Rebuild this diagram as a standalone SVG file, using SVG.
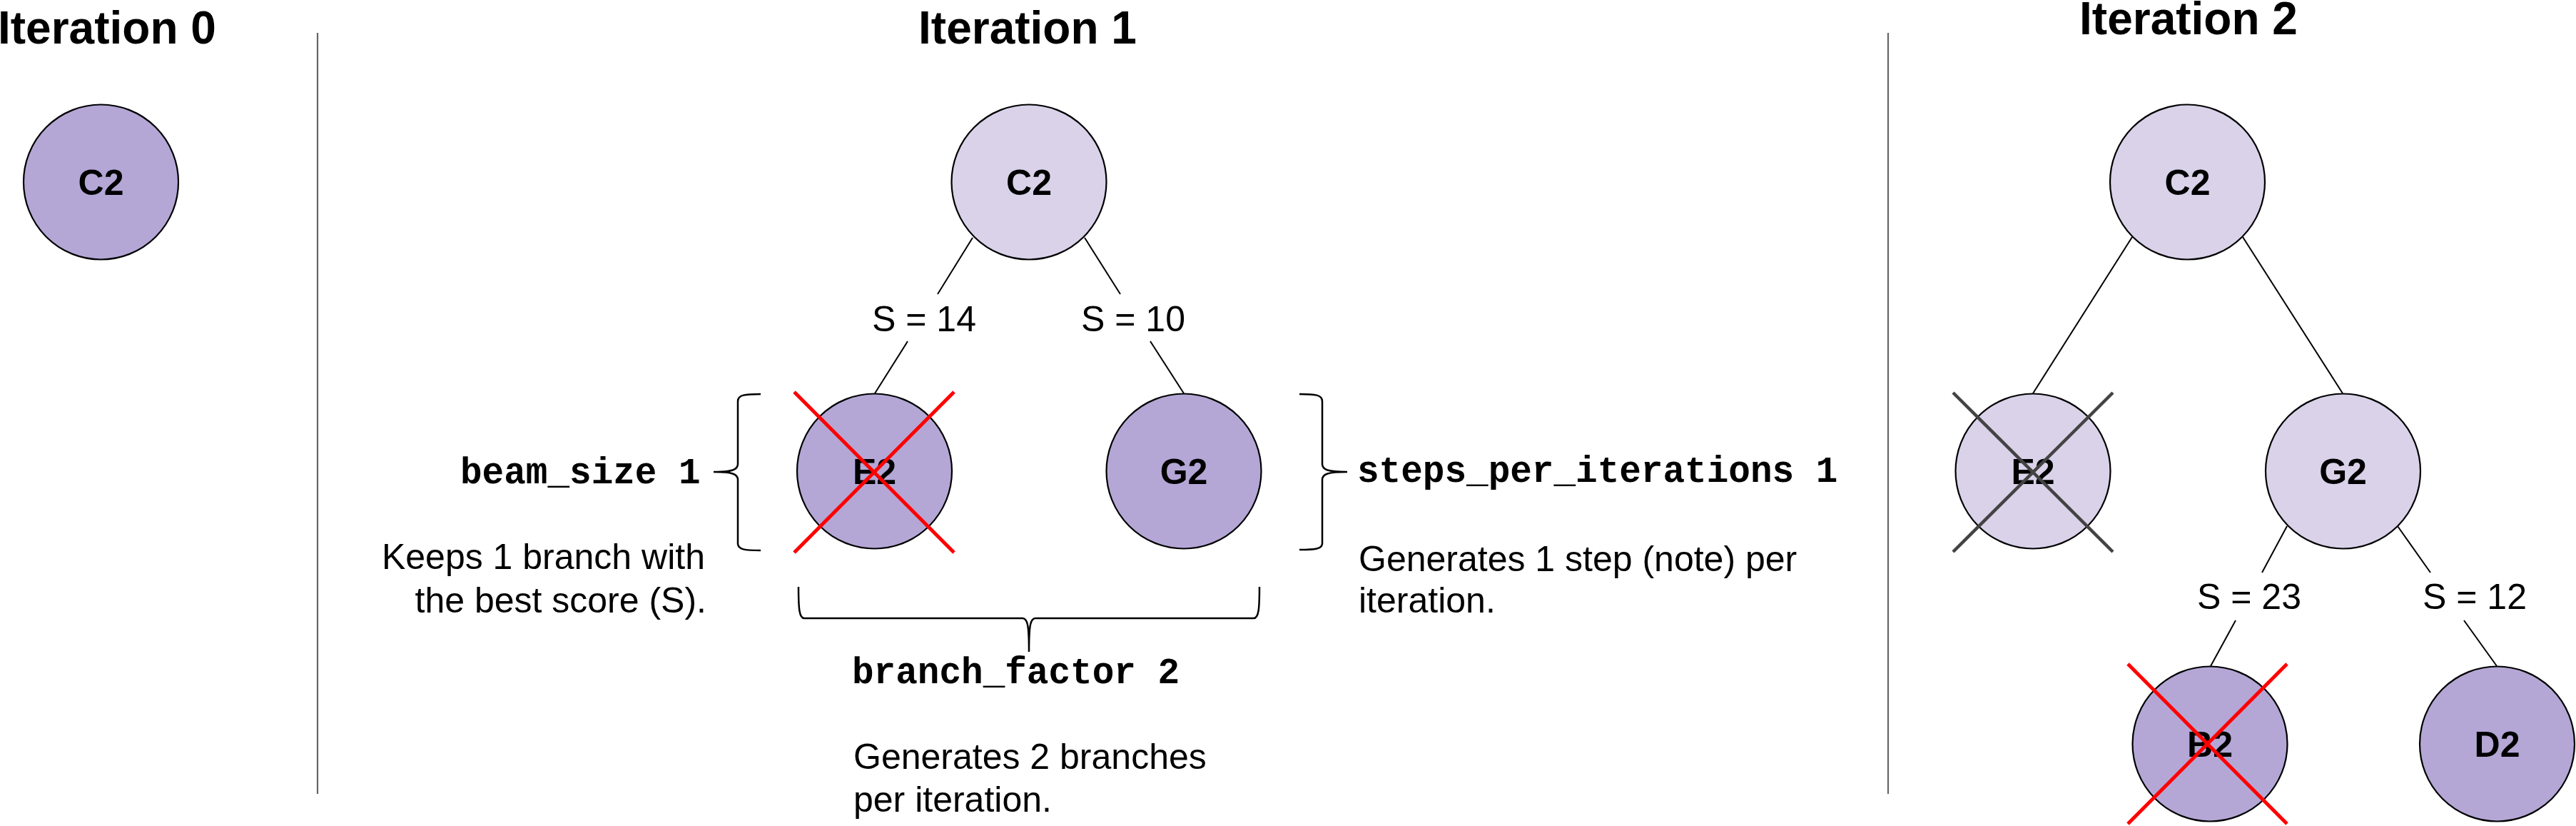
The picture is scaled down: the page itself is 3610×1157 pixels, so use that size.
<svg xmlns="http://www.w3.org/2000/svg" width="3610" height="1157" viewBox="0 0 3610 1157">
<style>
.title{font-family:"Liberation Sans",Arial,sans-serif;font-weight:bold;font-size:64px;fill:#000}
.nlabel{font-family:"Liberation Sans",Arial,sans-serif;font-weight:bold;font-size:50px;fill:#000;text-anchor:middle}
.elabel{font-family:"Liberation Sans",Arial,sans-serif;font-size:50px;fill:#000;text-anchor:middle}
.txt{font-family:"Liberation Sans",Arial,sans-serif;font-size:50px;fill:#000}
.mono{font-family:"Liberation Mono","Courier New",monospace;font-weight:bold;font-size:51px;fill:#000}
.dark{fill:#b4a7d6;stroke:#000;stroke-width:2.2}
.light{fill:#d9d2e9;stroke:#000;stroke-width:2.2}
.edge{stroke:#000;stroke-width:2;fill:none}
.brace{stroke:#000;stroke-width:2.5;fill:none}
.divider{stroke:#666;stroke-width:2.2}
.xred{stroke:#ff0000;stroke-width:5;stroke-linecap:butt}
.xgray{stroke:#434343;stroke-width:4.5;stroke-linecap:butt}
</style>
<rect width="3610" height="1157" fill="#fff"/>
<!-- titles -->
<text class="title" x="-3" y="61">Iteration 0</text>
<text class="title" x="1440" y="61" text-anchor="middle">Iteration 1</text>
<text class="title" x="3067" y="48" text-anchor="middle">Iteration 2</text>
<!-- dividers -->
<line class="divider" x1="445" y1="46" x2="445" y2="1112"/>
<line class="divider" x1="2646" y1="46" x2="2646" y2="1112"/>
<!-- connectors -->
<g id="connectors">
<line class="edge" x1="1363" y1="333" x2="1314" y2="412"/>
<line class="edge" x1="1272" y1="478" x2="1226" y2="551"/>
<text class="elabel" x="1295" y="464">S = 14</text>
<line class="edge" x1="1520" y1="333" x2="1570" y2="412"/>
<line class="edge" x1="1612" y1="478" x2="1659" y2="551"/>
<text class="elabel" x="1588" y="464">S = 10</text>
<line class="edge" x1="2988" y1="332" x2="2849" y2="551"/>
<line class="edge" x1="3143" y1="332" x2="3283" y2="551"/>
<line class="edge" x1="3205" y1="737" x2="3170" y2="802"/>
<line class="edge" x1="3133" y1="869" x2="3098" y2="933"/>
<text class="elabel" x="3152" y="853">S = 23</text>
<line class="edge" x1="3360" y1="737" x2="3406" y2="802"/>
<line class="edge" x1="3453" y1="869" x2="3499" y2="933"/>
<text class="elabel" x="3468" y="853">S = 12</text>
</g>
<!-- iteration 0 -->
<g id="it0-C2">
<circle class="dark" cx="141.5" cy="255" r="108.5"/>
<text class="nlabel" x="141.5" y="273">C2</text>
</g>
<!-- iteration 1 -->
<g id="it1-C2">
<circle class="light" cx="1442" cy="255" r="108.5"/>
<text class="nlabel" x="1442" y="273">C2</text>
</g>
<g id="it1-E2">
<circle class="dark" cx="1225.5" cy="660" r="108.5"/>
<text class="nlabel" x="1225.5" y="678">E2</text>
<line class="xred" x1="1113" y1="549" x2="1337" y2="774"/>
<line class="xred" x1="1337" y1="549" x2="1113" y2="774"/>
</g>
<g id="it1-G2">
<circle class="dark" cx="1659" cy="660" r="108.5"/>
<text class="nlabel" x="1659" y="678">G2</text>
</g>
<!-- braces and annotations -->
<g id="beam-size">
<path class="brace" d="M1066,552 C1044,552 1034,553 1034,562 L1034,650 C1034,658 1026,661 1000,661 C1026,661 1034,664 1034,672 L1034,761 C1034,770 1044,771 1066,771"/>
<text class="mono" x="645" y="677">beam_size 1</text>
<text class="txt" x="988" y="797" text-anchor="end">Keeps 1 branch with</text>
<text class="txt" x="990" y="858" text-anchor="end">the best score (S).</text>
</g>
<g id="steps-per-iteration">
<path class="brace" d="M1821,552 C1843,552 1853,553 1853,562 L1853,650 C1853,658 1861,661 1888,661 C1861,661 1853,664 1853,672 L1853,761 C1853,769 1843,770 1821,770"/>
<text class="mono" x="1902" y="675">steps_per_iterations 1</text>
<text class="txt" x="1904" y="800">Generates 1 step (note) per</text>
<text class="txt" x="1904" y="858">iteration.</text>
</g>
<g id="branch-factor">
<path class="brace" d="M1119,822 C1119,852 1120,866 1127,866 L1433,866 C1440,866 1442,876 1442,913 C1442,876 1444,866 1451,866 L1757,866 C1764,866 1765,852 1765,822"/>
<text class="mono" x="1194" y="957">branch_factor 2</text>
<text class="txt" x="1196" y="1077">Generates 2 branches</text>
<text class="txt" x="1196" y="1137">per iteration.</text>
</g>
<!-- iteration 2 -->
<g id="it2-C2">
<circle class="light" cx="3065.5" cy="255" r="108.5"/>
<text class="nlabel" x="3065.5" y="273">C2</text>
</g>
<g id="it2-E2">
<circle class="light" cx="2849" cy="660" r="108.5"/>
<text class="nlabel" x="2849" y="678">E2</text>
<line class="xgray" x1="2737" y1="550" x2="2961" y2="773"/>
<line class="xgray" x1="2961" y1="550" x2="2737" y2="773"/>
</g>
<g id="it2-G2">
<circle class="light" cx="3283.5" cy="660" r="108.5"/>
<text class="nlabel" x="3283.5" y="678">G2</text>
</g>
<g id="it2-B2">
<circle class="dark" cx="3097" cy="1042" r="108.5"/>
<text class="nlabel" x="3097" y="1060">B2</text>
<line class="xred" x1="2982" y1="930" x2="3205" y2="1154"/>
<line class="xred" x1="3205" y1="930" x2="2982" y2="1154"/>
</g>
<g id="it2-D2">
<circle class="dark" cx="3499.5" cy="1042" r="108.5"/>
<text class="nlabel" x="3499.5" y="1060">D2</text>
</g>
</svg>
